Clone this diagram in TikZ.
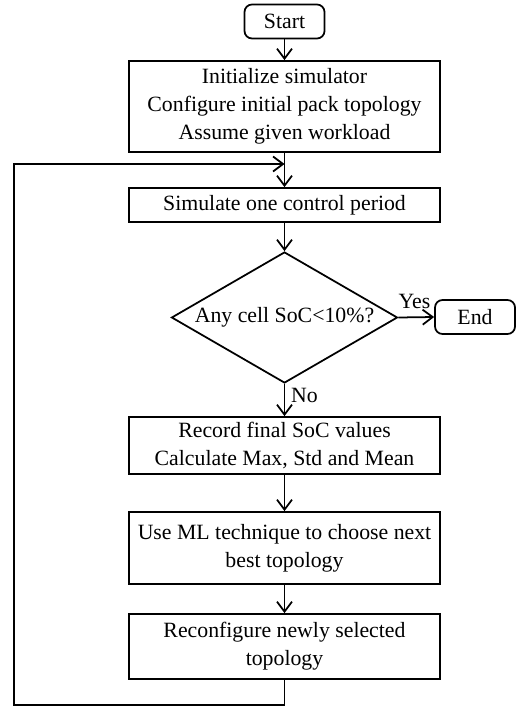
\documentclass[tikz,border=0pt]{standalone}
\usepackage{fontspec}
\setmainfont{Liberation Serif}
\usetikzlibrary{shapes.geometric,arrows.meta}

\begin{document}
\begin{tikzpicture}[line width = 1pt,
                    font = \fontsize{12.4}{15.8}\selectfont,
                    >={Straight Barb[length=2mm,width=3mm]},
                    term/.style = {rectangle, draw, rounded corners = 1.5mm, minimum width = 1.6cm, minimum height = 0.68cm, inner sep = 0pt},
                    proc/.style = {rectangle, draw, align = center, minimum width = 6.22cm, inner sep = 0pt},
                    cond/.style = {diamond, draw, aspect = 1.7, minimum width = 4.52cm, minimum height = 2.62cm, inner sep = 0pt}]
  \useasboundingbox (0, 0) rectangle (10.48, -14.12);
  \node [term] (start) at (5.69, -0.43) {Start};
  \node [proc, minimum height = 1.82cm] (init) at (5.69, -2.13)
    {Initialize simulator\\Configure initial pack topology\\Assume given workload};
  \coordinate (join) at (5.69, -3.28);
  \node [proc, minimum height = 0.68cm] (sim) at (5.69, -4.10) {Simulate one control period};
  \node [cond] (check) at (5.69, -6.35) {Any cell SoC<10\%?};
  \node [term] (end) at (9.50, -6.34) {End};
  \node [proc, minimum height = 1.14cm] (record) at (5.69, -8.91)
    {Record final SoC values\\Calculate Max, Std and Mean};
  \node [proc, minimum height = 1.44cm] (choose) at (5.69, -10.96)
    {Use ML technique to choose next\\best topology};
  \node [proc, minimum height = 1.30cm] (reconf) at (5.69, -12.93)
    {Reconfigure newly selected\\topology};
  \coordinate (bot) at (5.69, -14.10);
  \coordinate (botleft) at (0.28, -14.10);
  \coordinate (topleft) at (0.28, -3.28);

  \draw [->] (start) -- (init);
  \draw [->] (init) -- (sim);
  \draw [->] (sim) -- (check);
  \draw [->] (check.east) -- node [above, pos = 0.45, yshift = 1pt] {Yes} (end.west);
  \draw [->] (check.south) -- node [right, pos = 0.35] {No} (record);
  \draw [->] (record) -- (choose);
  \draw [->] (choose) -- (reconf);
  \draw [->] (reconf.south) -- (bot) -- (botleft) -- (topleft) -- (join);
\end{tikzpicture}
\end{document}
